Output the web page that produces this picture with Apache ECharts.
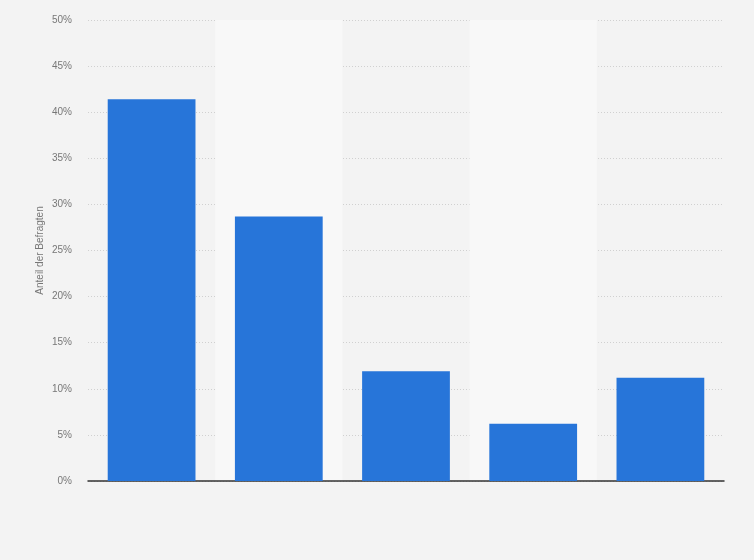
<!DOCTYPE html>
<html>
<head>
<meta charset="utf-8">
<script src="https://cdn.jsdelivr.net/npm/echarts@6/dist/echarts.min.js"></script>
<style>
html,body{margin:0;padding:0;background:#f3f3f3;}
#chart{width:754px;height:560px;}
</style>
</head>
<body>
<div id="chart"></div>
<script>
// Daten
var categories = ['Antwort 1', 'Antwort 2', 'Antwort 3', 'Antwort 4', 'Antwort 5'];
var shares = [41.4, 28.7, 11.9, 6.2, 11.2];
var yTicks = [0, 5, 10, 15, 20, 25, 30, 35, 40, 45, 50];

var myChart = echarts.init(document.getElementById('chart'));

var option = {
	backgroundColor: '#f3f3f3',
	animation: false,
	grid: {
		left: 88,
		right: 30,
		top: 20,
		bottom: 79
	},
	xAxis: {
		type: 'category',
		data: categories,
		axisLine: {show: true, lineStyle: {color: '#333', width: 1.5}},
		axisTick: {show: false},
		axisLabel: {show: false},
		splitArea: {
			show: true,
			areaStyle: {color: ['rgba(0,0,0,0)', '#f8f8f8']}
		}
	},
	yAxis: {
		type: 'value',
		min: yTicks[0],
		max: yTicks[yTicks.length - 1],
		interval: 5,
		name: 'Anteil der Befragten',
		nameLocation: 'middle',
		nameGap: 43,
		nameMoveOverlap: false,
		nameTextStyle: {color: '#777', fontSize: 10, fontFamily: 'Liberation Sans'},
		axisLine: {show: false},
		axisTick: {show: false},
		axisLabel: {
			color: '#777',
			fontSize: 10,
			fontFamily: 'Liberation Sans',
			margin: 16,
			formatter: '{value}%'
		},
		splitLine: {
			lineStyle: {color: '#d0d0d0', type: [1, 2], width: 1}
		}
	},
	series: [
		{
			type: 'bar',
			data: shares,
			barCategoryGap: '31%',
			itemStyle: {color: '#2775d9'}
		}
	]
};
myChart.setOption(option);
</script>
</body>
</html>
